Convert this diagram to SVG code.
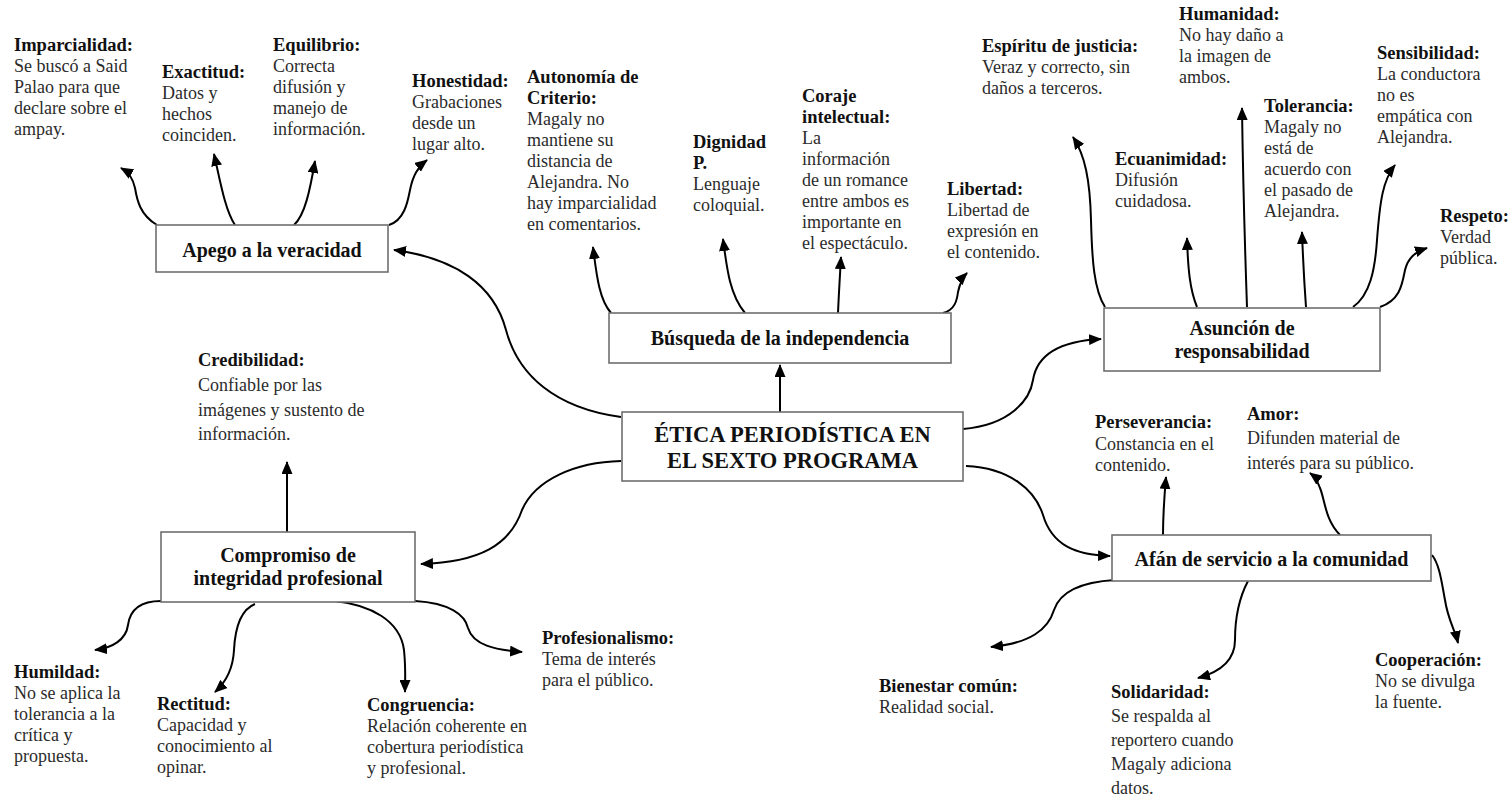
<svg xmlns="http://www.w3.org/2000/svg" width="1512" height="802" viewBox="0 0 1512 802">
<style>
.t{font-family:"Liberation Serif","Times New Roman",serif;font-size:18px;fill:#2b2b2b}
.h{font-weight:bold;fill:#111;font-size:18.5px}
.box{fill:#fff;stroke:#6f6f6f;stroke-width:1.6}
.bt{font-family:"Liberation Serif","Times New Roman",serif;font-size:20px;font-weight:bold;fill:#111;text-anchor:middle}
.ct{font-family:"Liberation Serif","Times New Roman",serif;font-size:22.5px;font-weight:bold;fill:#111;text-anchor:middle}
.c{fill:none;stroke:#000;stroke-width:2;marker-end:url(#ah)}
</style>
<defs>
<marker id="ah" viewBox="0 0 13 11" refX="12" refY="5.5" markerWidth="13" markerHeight="11" markerUnits="userSpaceOnUse" orient="auto">
<path d="M0,0 L13,5.5 L0,11 z" fill="#000"/>
</marker>
</defs>
<rect width="1512" height="802" fill="#fff"/>

<g id="connectors">
<path class="c" d="M621 417 C555 408 518 375 506 330 C494 285 455 258 394 250"/>
<path class="c" d="M780 412 L780 365"/>
<path class="c" d="M963 429 C1010 425 1030 400 1033 380 C1037 355 1060 341 1101 339"/>
<path class="c" d="M621 461 C575 462 535 480 522 510 C510 545 480 562 421 564"/>
<path class="c" d="M966 466 C1010 468 1035 490 1043 515 C1052 545 1075 555 1110 556"/>
<path class="c" d="M157 225 C140 215 137 200 135 188 C133 178 128 172 121 168"/>
<path class="c" d="M235 225 C225 210 220 180 214 154"/>
<path class="c" d="M294 225 C305 215 310 190 315 161"/>
<path class="c" d="M389 225 C405 220 408 200 410 190 C413 175 418 167 427 160"/>
<path class="c" d="M611 313 C600 300 597 280 593 247"/>
<path class="c" d="M745 313 C730 295 727 270 723 239"/>
<path class="c" d="M838 313 C839 290 840 275 841 257"/>
<path class="c" d="M943 313 C955 310 957 300 958 292 C960 283 962 278 967 273"/>
<path class="c" d="M1105 307 C1094 290 1092 260 1091 220 C1090 180 1085 155 1073 137"/>
<path class="c" d="M1197 307 C1190 290 1188 270 1187 238"/>
<path class="c" d="M1247 307 C1245 250 1243 180 1242 108"/>
<path class="c" d="M1306 307 C1304 280 1303 260 1302 232"/>
<path class="c" d="M1353 307 C1370 295 1375 270 1377 240 C1380 200 1383 180 1395 165"/>
<path class="c" d="M1380 307 C1400 300 1402 285 1405 270 C1408 258 1415 252 1427 248"/>
<path class="c" d="M287 532 L287 462"/>
<path class="c" d="M161 601 C140 601 130 610 128 625 C126 640 112 648 95 650"/>
<path class="c" d="M255 604 C240 610 235 630 234 650 C233 670 225 683 215 692"/>
<path class="c" d="M335 601 C370 605 400 620 404 650 C406 670 405 680 405 692"/>
<path class="c" d="M415 601 C450 603 465 615 468 628 C473 645 495 650 522 652"/>
<path class="c" d="M1163 535 C1163 515 1164 500 1166 477"/>
<path class="c" d="M1340 535 C1325 520 1325 500 1320 488 C1317 480 1314 476 1310 473"/>
<path class="c" d="M1115 580 C1080 582 1060 592 1054 610 C1048 630 1030 643 991 647"/>
<path class="c" d="M1248 581 C1238 600 1235 620 1235 640 C1235 660 1220 672 1198 678"/>
<path class="c" d="M1432 555 C1440 565 1442 585 1445 600 C1448 620 1455 630 1458 643"/>
</g>

<g id="central">
<rect class="box" x="622" y="412" width="341" height="69"/>
<text class="ct" x="792.5" y="442">ÉTICA PERIODÍSTICA EN</text>
<text class="ct" x="792.5" y="468">EL SEXTO PROGRAMA</text>
</g>
<g id="apego">
<rect class="box" x="156" y="225" width="232" height="47"/>
<text class="bt" x="272" y="257">Apego a la veracidad</text>
</g>
<g id="busqueda">
<rect class="box" x="609" y="313" width="342" height="50"/>
<text class="bt" x="780" y="345">Búsqueda de la independencia</text>
</g>
<g id="asuncion">
<rect class="box" x="1104" y="308" width="276" height="63"/>
<text class="bt" x="1242" y="335">Asunción de</text>
<text class="bt" x="1242" y="358">responsabilidad</text>
</g>
<g id="compromiso">
<rect class="box" x="161" y="532" width="254" height="70"/>
<text class="bt" x="288" y="562">Compromiso de</text>
<text class="bt" x="288" y="585">integridad profesional</text>
</g>
<g id="afan">
<rect class="box" x="1112" y="535" width="319" height="46"/>
<text class="bt" x="1271.5" y="566">Afán de servicio a la comunidad</text>
</g>

<g id="imparcialidad"><text class="t" x="14" y="51"><tspan class="h">Imparcialidad:</tspan><tspan x="14" dy="21">Se buscó a Said</tspan><tspan x="14" dy="21">Palao para que</tspan><tspan x="14" dy="21">declare sobre el</tspan><tspan x="14" dy="21">ampay.</tspan></text></g>
<g id="exactitud"><text class="t" x="162" y="78"><tspan class="h">Exactitud:</tspan><tspan x="162" dy="21">Datos y</tspan><tspan x="162" dy="21">hechos</tspan><tspan x="162" dy="21">coinciden.</tspan></text></g>
<g id="equilibrio"><text class="t" x="273" y="51"><tspan class="h">Equilibrio:</tspan><tspan x="273" dy="21">Correcta</tspan><tspan x="273" dy="21">difusión y</tspan><tspan x="273" dy="21">manejo de</tspan><tspan x="273" dy="21">información.</tspan></text></g>
<g id="honestidad"><text class="t" x="412" y="87"><tspan class="h">Honestidad:</tspan><tspan x="412" dy="21">Grabaciones</tspan><tspan x="412" dy="21">desde un</tspan><tspan x="412" dy="21">lugar alto.</tspan></text></g>

<g id="autonomia"><text class="t" x="527" y="83"><tspan class="h">Autonomía de</tspan><tspan class="h" x="527" dy="21">Criterio:</tspan><tspan x="527" dy="21">Magaly no</tspan><tspan x="527" dy="21">mantiene su</tspan><tspan x="527" dy="21">distancia de</tspan><tspan x="527" dy="21">Alejandra. No</tspan><tspan x="527" dy="21">hay imparcialidad</tspan><tspan x="527" dy="21">en comentarios.</tspan></text></g>
<g id="dignidad"><text class="t" x="693" y="148"><tspan class="h">Dignidad</tspan><tspan class="h" x="693" dy="21">P.</tspan><tspan x="693" dy="21">Lenguaje</tspan><tspan x="693" dy="21">coloquial.</tspan></text></g>
<g id="coraje"><text class="t" x="802" y="102"><tspan class="h">Coraje</tspan><tspan class="h" x="802" dy="21">intelectual:</tspan><tspan x="802" dy="21">La</tspan><tspan x="802" dy="21">información</tspan><tspan x="802" dy="21">de un romance</tspan><tspan x="802" dy="21">entre ambos es</tspan><tspan x="802" dy="21">importante en</tspan><tspan x="802" dy="21">el espectáculo.</tspan></text></g>
<g id="libertad"><text class="t" x="947" y="195"><tspan class="h">Libertad:</tspan><tspan x="947" dy="21">Libertad de</tspan><tspan x="947" dy="21">expresión en</tspan><tspan x="947" dy="21">el contenido.</tspan></text></g>

<g id="espiritu"><text class="t" x="982" y="52"><tspan class="h">Espíritu de justicia:</tspan><tspan x="982" dy="21">Veraz y correcto, sin</tspan><tspan x="982" dy="21">daños a terceros.</tspan></text></g>
<g id="humanidad"><text class="t" x="1179" y="20"><tspan class="h">Humanidad:</tspan><tspan x="1179" dy="21">No hay daño a</tspan><tspan x="1179" dy="21">la imagen de</tspan><tspan x="1179" dy="21">ambos.</tspan></text></g>
<g id="sensibilidad"><text class="t" x="1377" y="59"><tspan class="h">Sensibilidad:</tspan><tspan x="1377" dy="21">La conductora</tspan><tspan x="1377" dy="21">no es</tspan><tspan x="1377" dy="21">empática con</tspan><tspan x="1377" dy="21">Alejandra.</tspan></text></g>
<g id="ecuanimidad"><text class="t" x="1115" y="165"><tspan class="h">Ecuanimidad:</tspan><tspan x="1115" dy="21">Difusión</tspan><tspan x="1115" dy="21">cuidadosa.</tspan></text></g>
<g id="tolerancia"><text class="t" x="1264" y="112"><tspan class="h">Tolerancia:</tspan><tspan x="1264" dy="21">Magaly no</tspan><tspan x="1264" dy="21">está de</tspan><tspan x="1264" dy="21">acuerdo con</tspan><tspan x="1264" dy="21">el pasado de</tspan><tspan x="1264" dy="21">Alejandra.</tspan></text></g>
<g id="respeto"><text class="t" x="1440" y="222"><tspan class="h">Respeto:</tspan><tspan x="1440" dy="21">Verdad</tspan><tspan x="1440" dy="21">pública.</tspan></text></g>

<g id="credibilidad"><text class="t" x="198" y="366"><tspan class="h">Credibilidad:</tspan><tspan x="198" dy="25">Confiable por las</tspan><tspan x="198" dy="25">imágenes y sustento de</tspan><tspan x="198" dy="24">información.</tspan></text></g>
<g id="humildad"><text class="t" x="14" y="678"><tspan class="h">Humildad:</tspan><tspan x="14" dy="21">No se aplica la</tspan><tspan x="14" dy="21">tolerancia a la</tspan><tspan x="14" dy="21">crítica y</tspan><tspan x="14" dy="21">propuesta.</tspan></text></g>
<g id="rectitud"><text class="t" x="157" y="710"><tspan class="h">Rectitud:</tspan><tspan x="157" dy="21">Capacidad y</tspan><tspan x="157" dy="21">conocimiento al</tspan><tspan x="157" dy="21">opinar.</tspan></text></g>
<g id="congruencia"><text class="t" x="367" y="711"><tspan class="h">Congruencia:</tspan><tspan x="367" dy="21">Relación coherente en</tspan><tspan x="367" dy="21">cobertura periodística</tspan><tspan x="367" dy="21">y profesional.</tspan></text></g>
<g id="profesionalismo"><text class="t" x="542" y="644"><tspan class="h">Profesionalismo:</tspan><tspan x="542" dy="21">Tema de interés</tspan><tspan x="542" dy="21">para el público.</tspan></text></g>

<g id="perseverancia"><text class="t" x="1095" y="428"><tspan class="h">Perseverancia:</tspan><tspan x="1095" dy="22">Constancia en el</tspan><tspan x="1095" dy="21">contenido.</tspan></text></g>
<g id="amor"><text class="t" x="1247" y="420"><tspan class="h">Amor:</tspan><tspan x="1247" dy="24">Difunden material de</tspan><tspan x="1247" dy="25">interés para su público.</tspan></text></g>
<g id="bienestar"><text class="t" x="879" y="692"><tspan class="h">Bienestar común:</tspan><tspan x="879" dy="21">Realidad social.</tspan></text></g>
<g id="solidaridad"><text class="t" x="1111" y="698"><tspan class="h">Solidaridad:</tspan><tspan x="1111" dy="24">Se respalda al</tspan><tspan x="1111" dy="24">reportero cuando</tspan><tspan x="1111" dy="24">Magaly adiciona</tspan><tspan x="1111" dy="24">datos.</tspan></text></g>
<g id="cooperacion"><text class="t" x="1375" y="666"><tspan class="h">Cooperación:</tspan><tspan x="1375" dy="21">No se divulga</tspan><tspan x="1375" dy="21">la fuente.</tspan></text></g>
</svg>
